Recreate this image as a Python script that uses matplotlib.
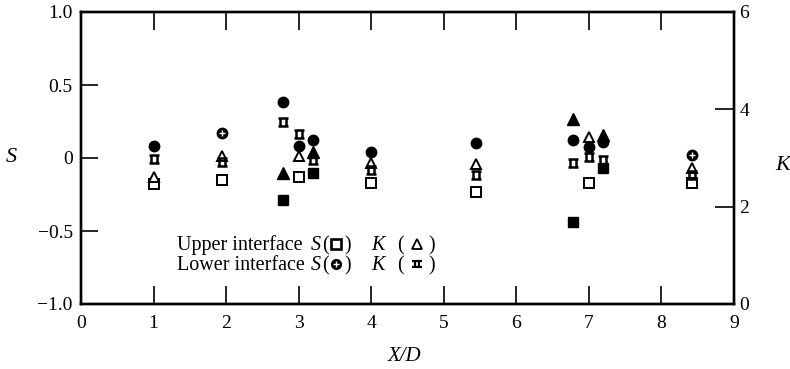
import matplotlib
matplotlib.use('Agg')
import matplotlib.pyplot as plt
from matplotlib.path import Path

# streamwise stations X/D
xd = [1.0, 1.95, 2.78, 3.0, 3.2, 4.0, 5.45, 6.78, 7.0, 7.2, 8.42]
# skewness S and flatness K, upper and lower interface
s_upper = [-0.18, -0.15, -0.29, -0.13, -0.105, -0.17, -0.23, -0.44, -0.17, -0.07, -0.17]
k_upper = [2.61, 3.04, 2.70, 3.04, 3.13, 2.89, 2.88, 3.80, 3.44, 3.47, 2.79]
s_lower = [0.08, 0.17, 0.385, 0.08, 0.12, 0.04, 0.105, 0.12, 0.075, 0.11, 0.02]
k_lower = [2.97, 2.92, 3.75, 3.50, 2.96, 2.75, 2.65, 2.89, 3.03, 2.96, 2.65]

# stations printed with solid upper-interface symbols
solid = [2, 4, 7, 9]
# lower S points where the cross in the circle shows
crossed = [1, 10]

x_ticks = [0, 1, 2, 3, 4, 5, 6, 7, 8, 9]
s_ticks = [-1.0, -0.5, 0, 0.5, 1.0]
s_labels = ['\u22121.0', '\u22120.5', '0', '0.5', '1.0']
k_ticks = [0, 2, 4, 6]
k_labels = ['0', '2', '4', '6']

SERIF = ['Liberation Serif', 'DejaVu Serif']
plt.rcParams['font.family'] = SERIF

W, H = 790, 369
fig = plt.figure(figsize=(W / 100, H / 100), dpi=100)
ax = fig.add_axes([81 / W, 1 - 304 / H, 653 / W, 292 / H])
ax2 = ax.twinx()

# K symbol: box with bars run out past the sides
kverts = [(-1, 0.75), (1, 0.75), (-1, -0.75), (1, -0.75),
          (-0.55, 0.75), (-0.55, -0.75), (0.55, 0.75), (0.55, -0.75)]
kcodes = [Path.MOVETO, Path.LINETO] * 4
kmark = Path(kverts, kcodes)

open_idx = [i for i in range(len(xd)) if i not in solid]

def pick(vals, idx):
    return [vals[i] for i in idx]

# upper interface
ax.plot(pick(xd, open_idx), pick(s_upper, open_idx), 's', ms=6.5, mfc='white', mec='k', mew=1.4, ls='none')
ax.plot(pick(xd, solid), pick(s_upper, solid), 's', ms=7, mfc='k', mec='k', ls='none')
ax2.plot(pick(xd, open_idx), pick(k_upper, open_idx), '^', ms=7.5, mfc='white', mec='k', mew=1.4, ls='none')
ax2.plot(pick(xd, solid), pick(k_upper, solid), '^', ms=8, mfc='k', mec='k', ls='none')

# lower interface
ax2.plot(xd, k_lower, marker=kmark, ms=7, mfc='none', mec='k', mew=1.8, ls='none')
ax.plot(xd, s_lower, 'o', ms=7.5, mfc='k', mec='k', ls='none')
ax.plot(pick(xd, crossed), pick(s_lower, crossed), '+', ms=4, mec='white', mew=1.0, ls='none')

ax.set_xlim(0, 9)
ax.set_ylim(-1, 1)
ax2.set_ylim(0, 6)

ax.set_xticks(x_ticks)
ax.set_xticklabels([str(t) for t in x_ticks])
ax.set_yticks(s_ticks)
ax.set_yticklabels(s_labels)
ax2.set_yticks(k_ticks)
ax2.set_yticklabels(k_labels)

ax.tick_params(axis='x', direction='in', top=True, length=13, width=1.2, pad=8, labelsize=14)
ax.tick_params(axis='y', direction='in', length=12, width=1.2, pad=6, labelsize=14)
ax2.tick_params(axis='y', direction='in', length=14, width=1.2, pad=4, labelsize=14)

for a in (ax, ax2):
    for sp in a.spines.values():
        sp.set_linewidth(1.7)

ax.set_xlabel('X/D', style='italic', fontsize=15, va='center')
ax.xaxis.set_label_coords(0.495, -0.18)
ax.set_ylabel('S', style='italic', fontsize=16, rotation=0, va='center', ha='center')
ax.yaxis.set_label_coords(-0.106, 0.5)
ax2.set_ylabel('K', style='italic', fontsize=16, rotation=0, va='center', ha='center')
ax2.yaxis.set_label_coords(1.075, 0.476)

# key written inside the plot, symbols drawn with the same markers
def put(txt, x, y, italic=False):
    fig.text(x / W, 1 - y / H, txt, ha='left', va='baseline', fontsize=14.5,
             style='italic' if italic else 'normal')

def sym(x, y, **kw):
    ax.plot([x / W], [1 - y / H], transform=fig.transFigure, clip_on=False, ls='none', **kw)

for base, label in [(250, 'Upper interface'), (270, 'Lower interface')]:
    put(label, 177, base)
    put('S', 311, base, italic=True)
    put('(', 322, base)
    put(')', 344, base)
    put('K', 371, base, italic=True)
    put('(', 397, base)
    put(')', 428, base)

sym(336, 244, marker='s', ms=6.5, mfc='white', mec='k', mew=1.9)
sym(417, 244, marker='^', ms=7, mfc='white', mec='k', mew=1.3)
sym(336, 264, marker='o', ms=7, mfc='k', mec='k')
sym(336, 264, marker='+', ms=4, mec='white', mew=1.0)
sym(417, 264, marker=kmark, ms=6.5, mfc='none', mec='k', mew=1.6)

fig.savefig('out.png', dpi=100)
